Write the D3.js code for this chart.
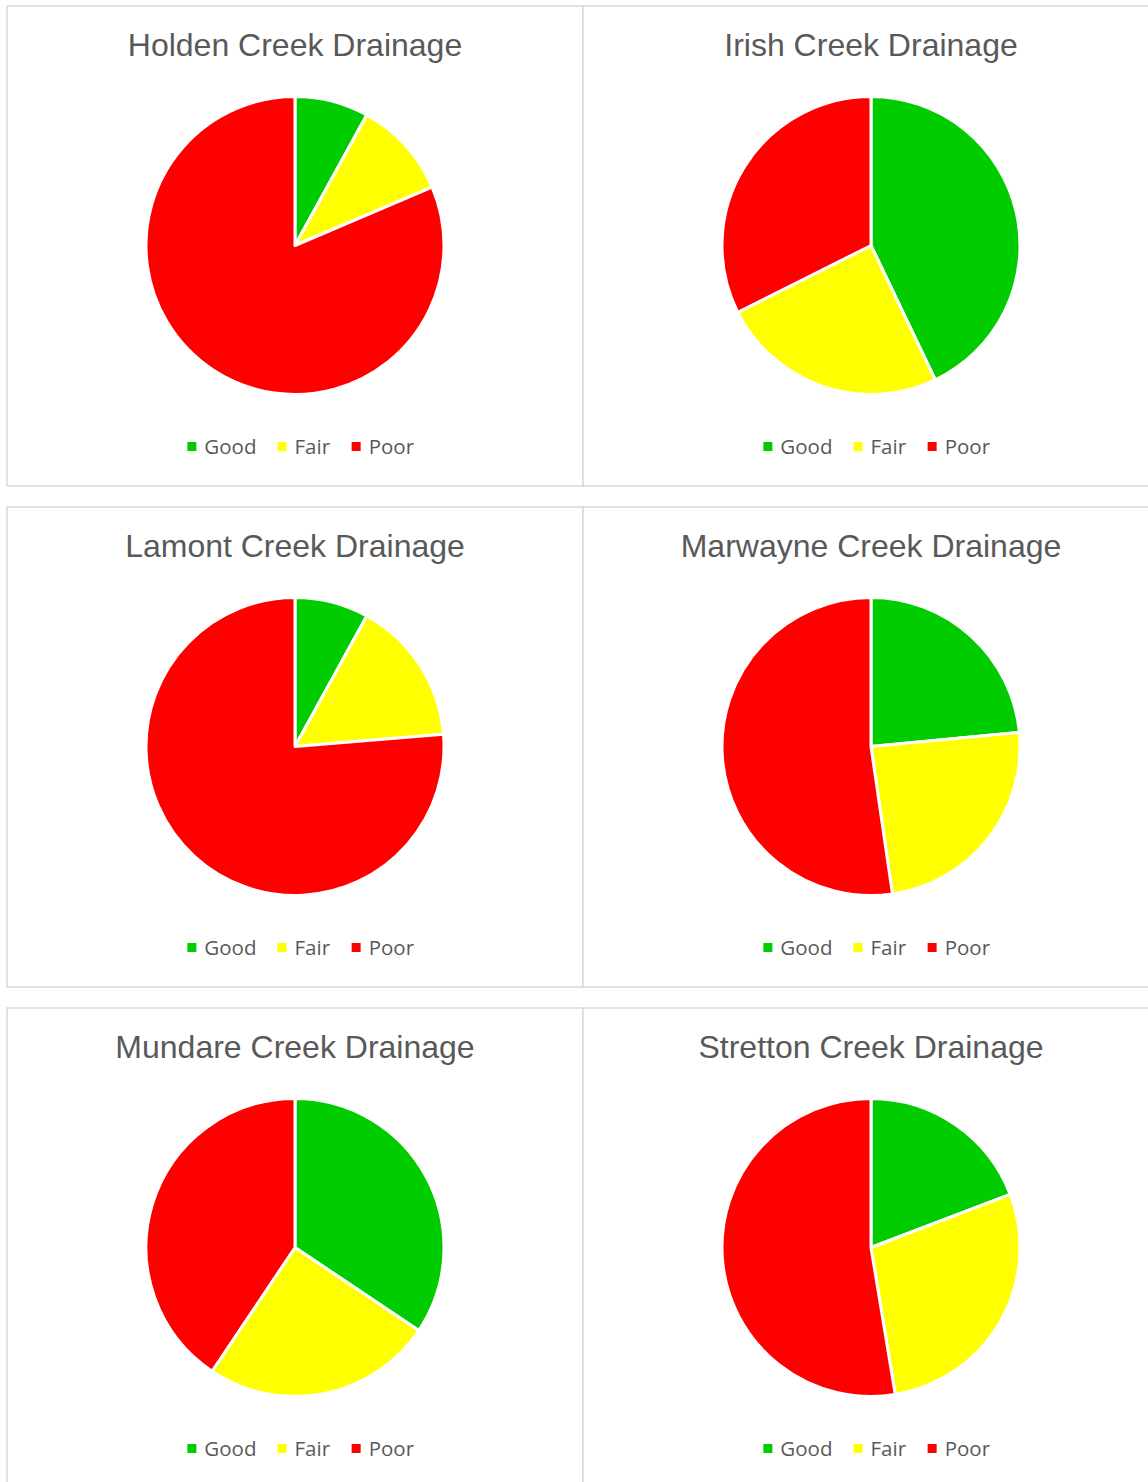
<!DOCTYPE html>
<html>
<head>
<meta charset="utf-8">
<script src="https://cdn.jsdelivr.net/npm/d3@7"></script>
<style>
  body { margin: 0; background: #fff; }
  svg { display: block; }
</style>
</head>
<body>
<svg id="charts" width="1148" height="1482"></svg>
<script>
// data (percent of sites)
var categories = ["Good", "Fair", "Poor"];
var colors     = ["#00cc00", "#ffff00", "#ff0000"];
var titles = [
    "Holden Creek Drainage",
    "Irish Creek Drainage",
    "Lamont Creek Drainage",
    "Marwayne Creek Drainage",
    "Mundare Creek Drainage",
    "Stretton Creek Drainage"
];
var holden   = [8.0, 10.6, 81.4];
var irish    = [42.9, 24.7, 32.4];
var lamont   = [8.0, 15.7, 76.3];
var marwayne = [23.5, 24.2, 52.3];
var mundare  = [34.4, 25.0, 40.6];
var stretton = [19.2, 28.2, 52.6];
var series = [holden, irish, lamont, marwayne, mundare, stretton];

var svg = d3.select("#charts"),
    panelW = 576,
    panelH = 480,
    stepY = 501,
    r = 149,
    textColor = "#595959";

var color = d3.scaleOrdinal().domain(categories).range(colors);

var pie = d3.pie()
    .sort(null)
    .value(function(d){ return d.value; });

var arc = d3.arc().innerRadius(0).outerRadius(r);

series.forEach(function(vals, i){
    var col = i % 2,
        row = Math.floor(i / 2),
        x0 = 7 + col * panelW,
        y0 = 6 + row * stepY,
        cx = panelW / 2;

    var g = svg.append("g").attr("transform", "translate(" + x0 + "," + y0 + ")");

    // chart area border
    g.append("rect")
        .attr("width", panelW)
        .attr("height", panelH)
        .attr("fill", "#fff")
        .attr("stroke", "#d9d9d9")
        .attr("stroke-width", 1.5);

    g.append("text")
        .attr("x", cx)
        .attr("y", 50)
        .attr("text-anchor", "middle")
        .attr("font-family", "Liberation Sans, Arial, sans-serif")
        .attr("font-size", 32)
        .attr("fill", textColor)
        .text(titles[i]);

    var data = categories.map(function(c, j){ return {name: c, value: vals[j]}; });

    g.append("g")
        .attr("transform", "translate(" + cx + ",239.5)")
        .selectAll("path")
        .data(pie(data))
        .join("path")
        .attr("d", arc)
        .attr("fill", function(d){ return color(d.data.name); })
        .attr("stroke", "#fff")
        .attr("stroke-width", 3)
        .attr("stroke-linejoin", "round");

    drawLegend(g, cx + 6, 448);
});

function drawLegend(g, center, baseline){
    var leg = g.append("g");
    var items = leg.selectAll("g")
        .data(categories)
        .join("g");

    items.append("rect")
        .attr("y", baseline - 12)
        .attr("width", 9)
        .attr("height", 9)
        .attr("fill", function(d){ return color(d); });

    items.append("text")
        .attr("x", 17)
        .attr("y", baseline)
        .attr("font-family", "Open Sans, sans-serif")
        .attr("font-size", 20.5)
        .attr("fill", textColor)
        .text(function(d){ return d; });

    // lay items out left to right, then center the row
    var x = 0;
    items.each(function(){
        var w = this.getBBox().width;
        d3.select(this).attr("transform", "translate(" + x + ",0)");
        x += w + 21;
    });
    var total = x - 21;
    leg.attr("transform", "translate(" + (center - total / 2) + ",0)");
}
</script>
</body>
</html>
